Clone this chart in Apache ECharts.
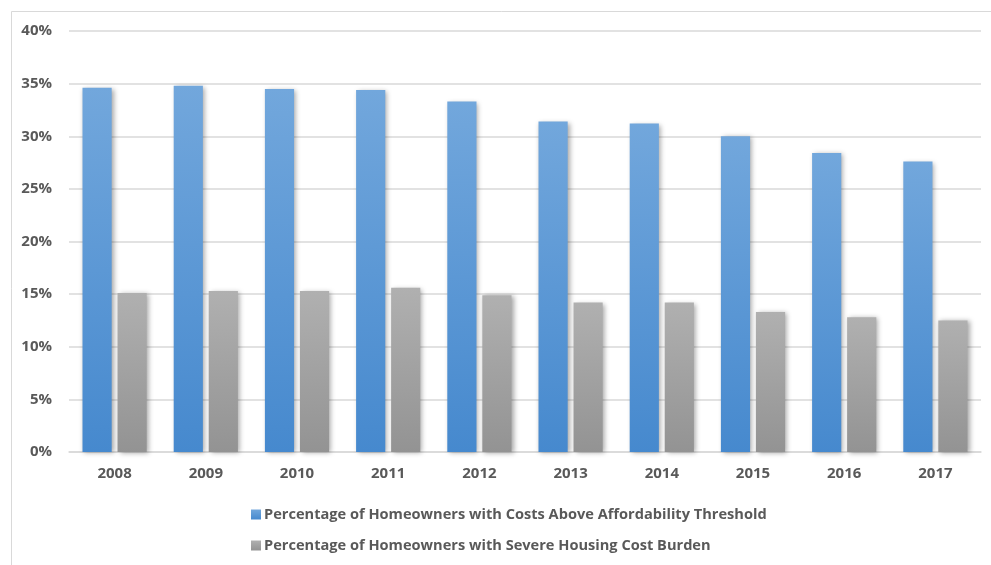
<!DOCTYPE html>
<html>
<head>
<meta charset="utf-8">
<script src="https://cdn.jsdelivr.net/npm/echarts@6/dist/echarts.min.js"></script>
<style>
  html, body { margin: 0; padding: 0; background: #fff; }
  #chart { width: 991px; height: 565px; }
</style>
</head>
<body>
<div id="chart"></div>
<script>
// Survey years
const years = ['2008', '2009', '2010', '2011', '2012', '2013', '2014', '2015', '2016', '2017'];

// Share of homeowners whose housing costs exceed the affordability threshold (%)
const aboveThreshold = [34.6, 34.8, 34.5, 34.4, 33.3, 31.4, 31.2, 30.0, 28.4, 27.6];

// Share of homeowners with a severe housing cost burden (%)
const severeBurden = [15.1, 15.3, 15.3, 15.6, 14.9, 14.2, 14.2, 13.3, 12.8, 12.5];

const seriesNames = [
  'Percentage of Homeowners with Costs Above Affordability Threshold',
  'Percentage of Homeowners with Severe Housing Cost Burden'
];

const fontFamily = '"Open Sans", "Liberation Sans", sans-serif';
const textColor = '#595959';

function vGrad(top, bottom) {
  return new echarts.graphic.LinearGradient(0, 0, 0, 1, [
    { offset: 0, color: top },
    { offset: 1, color: bottom }
  ]);
}

const chart = echarts.init(document.getElementById('chart'), null, { renderer: 'canvas' });

chart.setOption({
  animation: false,
  backgroundColor: '#ffffff',
  graphic: [{
    type: 'rect',
    left: 9, top: 9,
    shape: { width: 990, height: 560 },
    style: { fill: 'none', stroke: '#d9d9d9', lineWidth: 1 },
    silent: true,
    z: -1
  }],
  grid: { left: 69, right: 10, top: 31, bottom: 113, containLabel: false },
  legend: {
    orient: 'vertical',
    left: 246,
    top: 502,
    itemWidth: 10,
    itemHeight: 10,
    itemGap: 16,
    icon: 'rect',
    textStyle: { fontFamily, fontWeight: 'bold', fontSize: 14.6, color: textColor, padding: [0, 0, 0, -2] },
    data: seriesNames
  },
  xAxis: {
    type: 'category',
    data: years,
    axisTick: { show: false },
    axisLine: { lineStyle: { color: '#d9d9d9', width: 1.5 } },
    axisLabel: { fontFamily, fontWeight: 'bold', fontSize: 15, color: textColor, margin: 14 }
  },
  yAxis: {
    type: 'value',
    min: 0,
    max: 40,
    interval: 5,
    axisLine: { show: false },
    axisTick: { show: false },
    splitLine: { lineStyle: { color: '#d9d9d9', width: 1.5 } },
    axisLabel: {
      fontFamily, fontWeight: 'bold', fontSize: 15, color: textColor, margin: 17,
      formatter: v => v + '%'
    }
  },
  series: [
    {
      name: seriesNames[0],
      type: 'bar',
      data: aboveThreshold,
      barWidth: '32%',
      barGap: '20%',
      itemStyle: {
        color: vGrad('#72a7dc', '#4689ce'),
        shadowBlur: 5,
        shadowColor: 'rgba(0,0,0,0.35)',
        shadowOffsetX: 2,
        shadowOffsetY: 1
      }
    },
    {
      name: seriesNames[1],
      type: 'bar',
      data: severeBurden,
      barWidth: '32%',
      itemStyle: {
        color: vGrad('#b0b0b0', '#939393'),
        shadowBlur: 5,
        shadowColor: 'rgba(0,0,0,0.35)',
        shadowOffsetX: 2,
        shadowOffsetY: 1
      }
    }
  ]
});
</script>
</body>
</html>
